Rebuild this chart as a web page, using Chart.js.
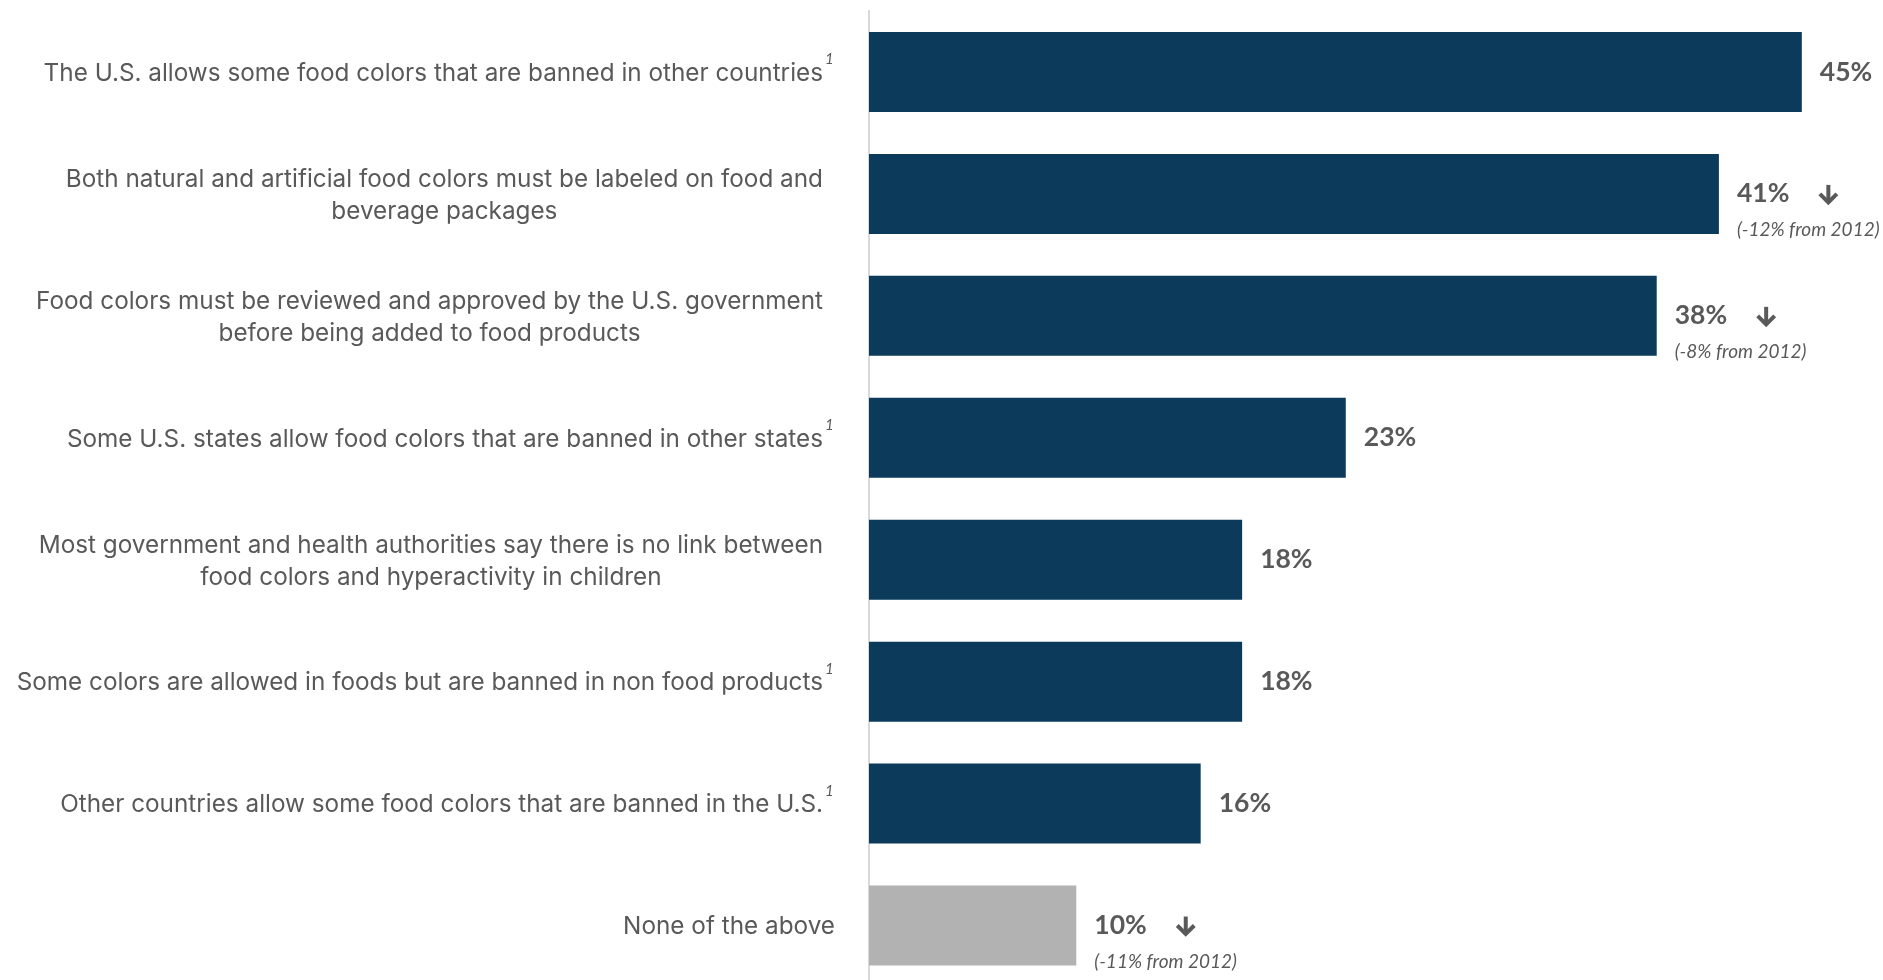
<!DOCTYPE html>
<html>
<head>
<meta charset="utf-8">
<script src="https://cdn.jsdelivr.net/npm/chart.js@4.4.1/dist/chart.umd.min.js"></script>
<style>
  html, body { margin: 0; padding: 0; background: #fff; overflow: hidden; }
  #wrap { width: 1883px; height: 990px; }
</style>
</head>
<body>
<div id="wrap"><canvas id="chart" width="1883" height="990"></canvas></div>
<script>
// category text, split where the reference wraps
const categories = [
  ['The U.S. allows some food colors that are banned in other countries'],
  ['Both natural and artificial food colors must be labeled on food and', 'beverage packages'],
  ['Food colors must be reviewed and approved by the U.S. government', 'before being added to food products'],
  ['Some U.S. states allow food colors that are banned in other states'],
  ['Most government and health authorities say there is no link between', 'food colors and hyperactivity in children'],
  ['Some colors are allowed in foods but are banned in non food products'],
  ['Other countries allow some food colors that are banned in the U.S.'],
  ['None of the above']
];
const footnotes = [true, false, false, true, false, true, true, false];
const values = [45, 41, 38, 23, 18, 18, 16, 10];
const changes = [null, '-12%', '-8%', null, null, null, null, '-11%'];

const NAVY = '#0b3a5b';
const GREY_BAR = '#b2b2b2';
const TEXT = '#595959';
const LABEL_FONT = '24.3px Inter';

function drawDownArrow(ctx, cx, cy)
{
    ctx.save();
    ctx.strokeStyle = TEXT;
    ctx.lineWidth = 4;
    ctx.lineCap = 'butt';
    ctx.lineJoin = 'miter';
    ctx.beginPath();
    ctx.moveTo(cx, cy - 9);
    ctx.lineTo(cx, cy + 8);
    ctx.stroke();
    ctx.beginPath();
    ctx.moveTo(cx - 8.5, cy);
    ctx.lineTo(cx, cy + 8.5);
    ctx.lineTo(cx + 8.5, cy);
    ctx.stroke();
    ctx.restore();
}

const labelPlugin = {
    id: 'labels',
    afterDraw(chart)
    {
        const ctx = chart.ctx;
        const yScale = chart.scales.y;
        const meta = chart.getDatasetMeta(0);
        ctx.save();
        ctx.fillStyle = TEXT;
        ctx.textBaseline = 'middle';

        // category labels: block right aligned, lines centred inside it
        categories.forEach((lines, i) =>
        {
            ctx.font = LABEL_FONT;
            let right = chart.chartArea.left - 46;
            if (lines.length === 1 && !footnotes[i]) right += 12;
            const yc = yScale.getPixelForValue(i) + 1.5;
            const blockW = Math.max(...lines.map(l => ctx.measureText(l).width));
            const center = right - blockW / 2;
            ctx.textAlign = 'center';
            lines.forEach((line, j) =>
            {
                ctx.fillText(line, center, yc + (j - (lines.length - 1) / 2) * 32);
            });
            if (footnotes[i])
            {
                ctx.font = 'italic 15px Lato';
                ctx.textAlign = 'left';
                ctx.fillText('1', right + 2, yc - 14);
            }
        });

        // value labels beside the bars
        meta.data.forEach((bar, i) =>
        {
            const x = bar.x + 18;
            const txt = values[i] + '%';
            ctx.font = 'bold 26.5px Lato';
            ctx.textAlign = 'left';
            ctx.fillText(txt, x, bar.y);
            if (changes[i])
            {
                const w = ctx.measureText(txt).width;
                drawDownArrow(ctx, x + w + 39, bar.y);
                ctx.font = 'italic 19px Lato';
                ctx.fillText('(' + changes[i] + ' from 2012)', x, bar.y + 36);
            }
        });
        ctx.restore();
    }
};

new Chart(document.querySelector('#chart'),
{
    type: 'bar',
    data:
    {
        labels: categories.map(l => l.join(' ')),
        datasets:
        [
            {
                data: values,
                backgroundColor: c => categories[c.dataIndex][0] === 'None of the above' ? GREY_BAR : NAVY,
                borderWidth: 0,
                barPercentage: 0.656,
                categoryPercentage: 1
            }
        ]
    },
    options:
    {
        indexAxis: 'y',
        responsive: false,
        animation: false,
        layout: {padding: {top: 11, bottom: 3.5, right: 19, left: 0}},
        plugins:
        {
            legend: {display: false},
            tooltip: {enabled: false}
        },
        scales:
        {
            x: {display: false, min: 0, max: 48},
            y:
            {
                ticks: {display: false},
                grid: {display: false},
                border: {display: true, color: '#d9d9d9', width: 2},
                afterFit: scale => { scale.width = 869; }
            }
        }
    },
    plugins: [labelPlugin]
});
</script>
</body>
</html>
